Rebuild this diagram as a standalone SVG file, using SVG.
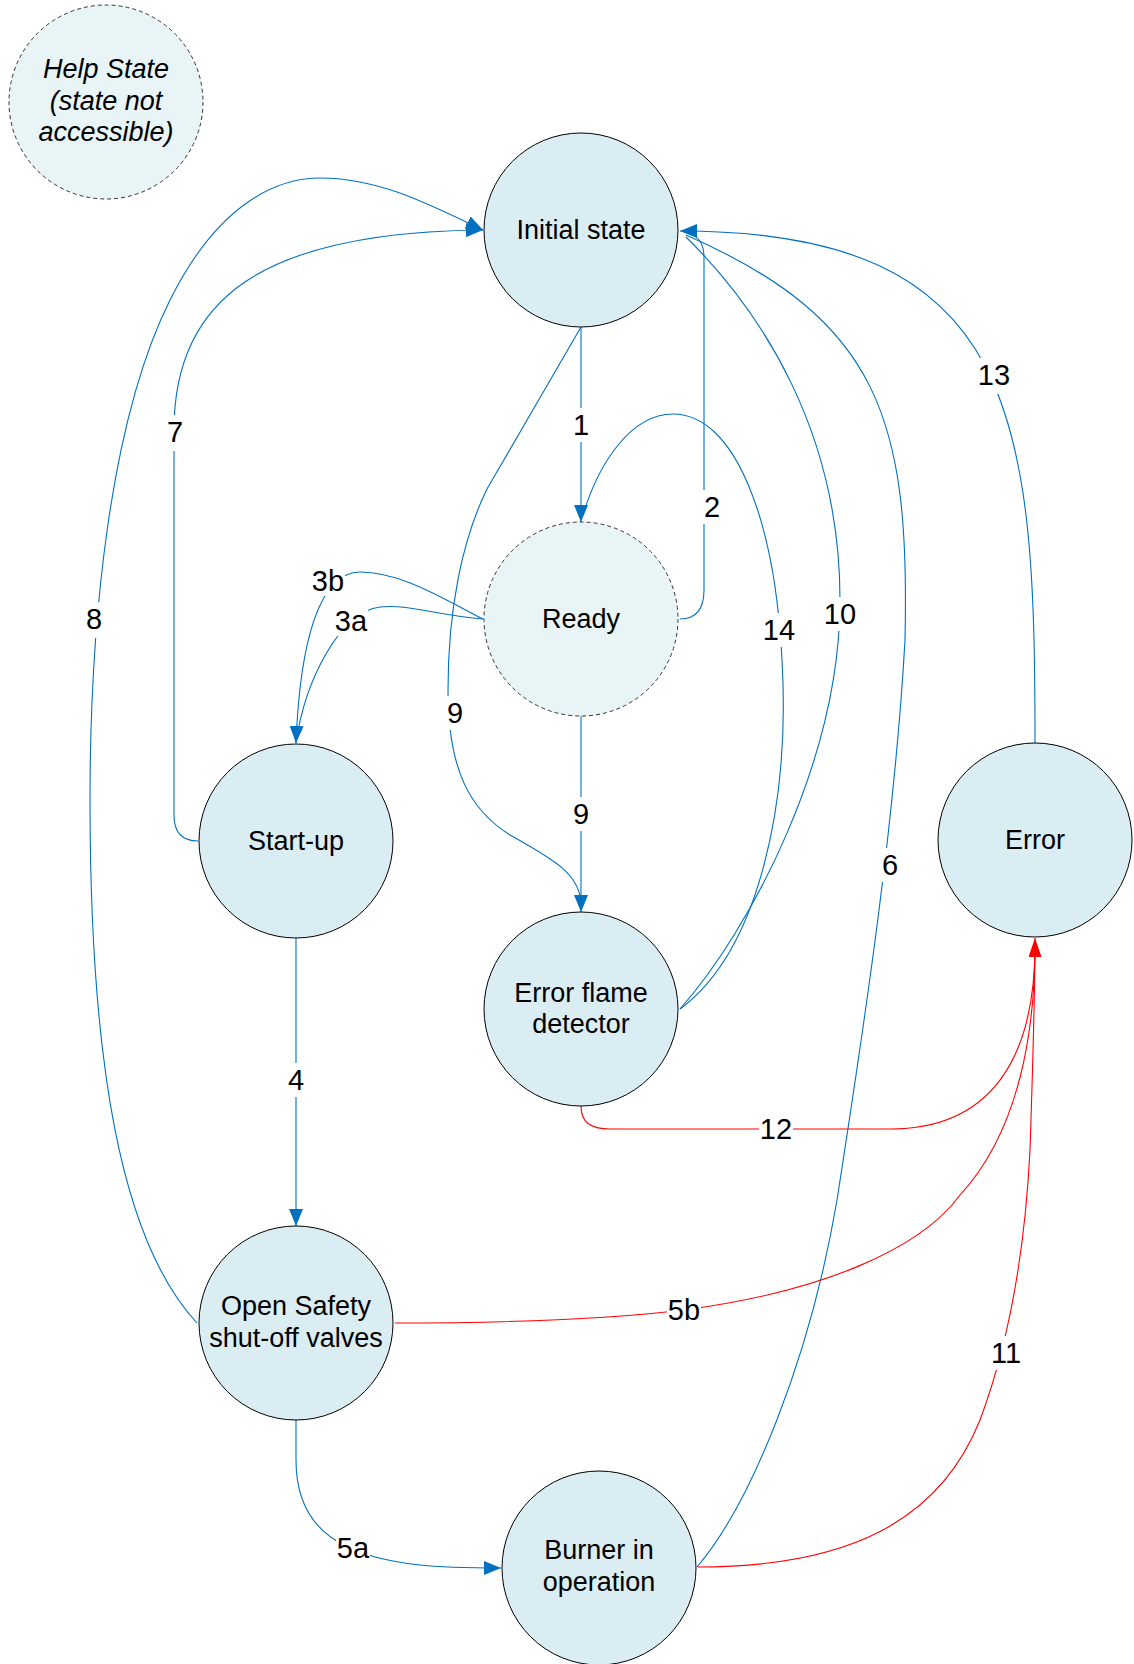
<svg xmlns="http://www.w3.org/2000/svg" width="1134" height="1664" viewBox="0 0 1134 1664">
<style>
.node{fill:#daedf3;stroke:#000;stroke-width:1}
.dash{fill:#e8f4f6;stroke:#333;stroke-width:1;stroke-dasharray:4,3}
.nt{font-family:"Liberation Sans",Arial,sans-serif;font-size:27px;fill:#000;text-anchor:middle}
.it{font-style:italic}
.e{fill:none;stroke:#0070c0;stroke-width:1.1}
.r{fill:none;stroke:#ff0000;stroke-width:1.1}
.lb{fill:#fff}
.lt{font-family:"Liberation Sans",Arial,sans-serif;font-size:29px;fill:#000;text-anchor:middle}
</style>
<defs>
<marker id="ab" markerUnits="userSpaceOnUse" markerWidth="18" markerHeight="14" refX="17" refY="7" orient="auto"><path d="M0,0 L17,7 L0,14 z" fill="#0070c0"/></marker>
<marker id="ar" markerUnits="userSpaceOnUse" markerWidth="20" markerHeight="13" refX="19" refY="6.5" orient="auto"><path d="M0,0 L19,6.5 L0,13 z" fill="#ff0000"/></marker>
</defs>
<rect width="1134" height="1664" fill="#fff"/>
<g id="connectors">
<path id="e1" class="e" d="M581,327 L581,522" marker-end="url(#ab)"/>
<path id="e14" class="e" d="M680,1009 C760,950 790,800 782,660 C775,520 735,414 673,414 C630,414 598,465 583,515"/>
<path id="e2" class="e" d="M680,619 C698,619 704,606 704,590 L704,257 C704,242 696,233 684,232"/>
<path id="e10" class="e" d="M680,1009 C750,930 840,760 840,600 C840,430 760,310 686,237"/>
<path id="e6" class="e" d="M697,1567 C750,1505 810,1360 837,1200 C865,1020 895,820 905,640 C910,420 880,320 686,235"/>
<path id="e13" class="e" d="M1035,743 C1035,420 1020,231 680,231" marker-end="url(#ab)"/>
<path id="e7" class="e" d="M198,841 C180,841 174,830 174,815 L174,430 C174,300 260,232 483,230" marker-end="url(#ab)"/>
<path id="e8" class="e" d="M197,1323 C120,1240 90,1060 90,800 C90,620 110,420 170,300 C220,200 280,178 320,178 C380,178 430,205 483,230" marker-end="url(#ab)"/>
<path id="e3a" class="e" d="M483,619 C440,616 410,604 380,607 C340,612 305,680 296,743"/>
<path id="e3b" class="e" d="M483,619 C440,597 400,572 360,572 C320,572 300,640 296,743" marker-end="url(#ab)"/>
<path id="e9a" class="e" d="M581,716 L581,912" marker-end="url(#ab)"/>
<path id="e9b" class="e" d="M581,327 L487,489 C462,540 448,610 448,690 C448,770 470,810 510,835 C555,860 581,875 581,905"/>
<path id="e4" class="e" d="M296,938 L296,1226" marker-end="url(#ab)"/>
<path id="e5a" class="e" d="M296,1420 L296,1460 C296,1510 320,1535 350,1548 C390,1566 440,1568 501,1568" marker-end="url(#ab)"/>
<path id="e5b" class="r" d="M395,1323 C500,1323 600,1320 684,1310 C820,1292 920,1250 960,1195 C1020,1130 1035,1030 1035,945"/>
<path id="e12" class="r" d="M581,1106 C581,1122 590,1129 610,1129 L890,1129 C990,1129 1035,1060 1035,945"/>
<path id="e11" class="r" d="M698,1567 C850,1567 940,1520 980,1420 C1010,1340 1025,1250 1030,1150 C1033,1060 1035,1000 1035,938" marker-end="url(#ar)"/>
<g id="labels">
<rect class="lb" x="572" y="408" width="18" height="34"/><text class="lt" x="581" y="435">1</text>
<rect class="lb" x="703" y="490" width="18" height="34"/><text class="lt" x="712" y="517">2</text>
<rect class="lb" x="311" y="566" width="34" height="30"/><text class="lt" x="328" y="591">3b</text>
<rect class="lb" x="334" y="606" width="34" height="30"/><text class="lt" x="351" y="631">3a</text>
<rect class="lb" x="287" y="1063" width="18" height="34"/><text class="lt" x="296" y="1090">4</text>
<rect class="lb" x="336" y="1533" width="34" height="30"/><text class="lt" x="353" y="1558">5a</text>
<rect class="lb" x="667" y="1295" width="34" height="30"/><text class="lt" x="684" y="1320">5b</text>
<rect class="lb" x="881" y="848" width="18" height="34"/><text class="lt" x="890" y="875">6</text>
<rect class="lb" x="166" y="415" width="18" height="36"/><text class="lt" x="175" y="442">7</text>
<rect class="lb" x="85" y="602" width="18" height="36"/><text class="lt" x="94" y="629">8</text>
<rect class="lb" x="446" y="696" width="18" height="34"/><text class="lt" x="455" y="723">9</text>
<rect class="lb" x="572" y="797" width="18" height="34"/><text class="lt" x="581" y="824">9</text>
<rect class="lb" x="823" y="597" width="34" height="34"/><text class="lt" x="840" y="624">10</text>
<rect class="lb" x="989" y="1336" width="34" height="34"/><text class="lt" x="1006" y="1363">11</text>
<rect class="lb" x="759" y="1114" width="34" height="30"/><text class="lt" x="776" y="1139">12</text>
<rect class="lb" x="977" y="358" width="34" height="36"/><text class="lt" x="994" y="385">13</text>
<rect class="lb" x="762" y="613" width="34" height="34"/><text class="lt" x="779" y="640">14</text>
</g>
</g>
<g id="help"><circle class="dash" cx="106" cy="102" r="97"/>
<text class="nt it" x="106" y="78">Help State</text><text class="nt it" x="106" y="110">(state not</text><text class="nt it" x="106" y="141">accessible)</text></g>
<g id="initial"><circle class="node" cx="581" cy="230" r="97"/><text class="nt" x="581" y="239">Initial state</text></g>
<g id="ready"><circle class="dash" cx="581" cy="619" r="97"/><text class="nt" x="581" y="628">Ready</text></g>
<g id="startup"><circle class="node" cx="296" cy="841" r="97"/><text class="nt" x="296" y="850">Start-up</text></g>
<g id="efd"><circle class="node" cx="581" cy="1009" r="97"/><text class="nt" x="581" y="1002">Error flame</text><text class="nt" x="581" y="1033">detector</text></g>
<g id="error"><circle class="node" cx="1035" cy="840" r="97"/><text class="nt" x="1035" y="849">Error</text></g>
<g id="opensafety"><circle class="node" cx="296" cy="1323" r="97"/><text class="nt" x="296" y="1315">Open Safety</text><text class="nt" x="296" y="1347">shut-off valves</text></g>
<g id="burner"><circle class="node" cx="599" cy="1568" r="97"/><text class="nt" x="599" y="1559">Burner in</text><text class="nt" x="599" y="1591">operation</text></g>
</svg>
